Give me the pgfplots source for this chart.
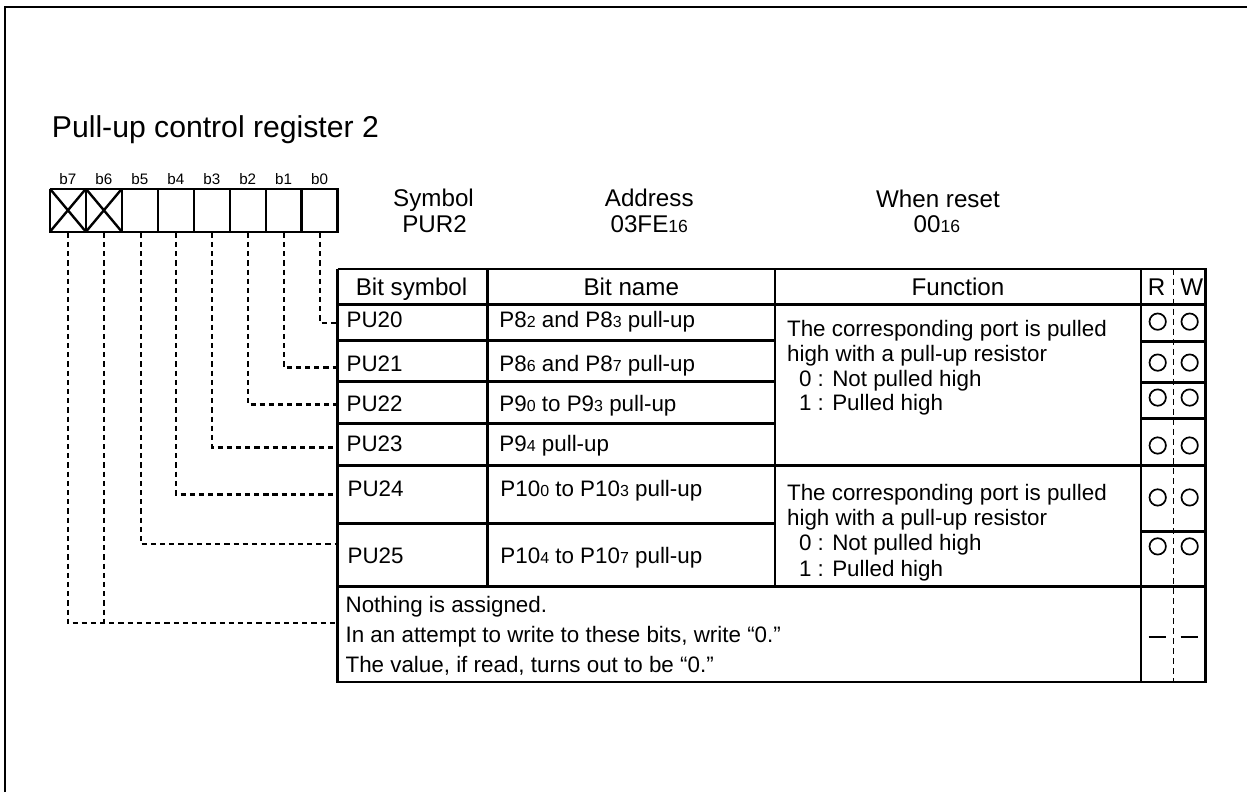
\documentclass[border=0pt]{standalone}
\usepackage{pgfplots}
\pgfplotsset{compat=1.18}
\usepackage{fontspec}
\setmainfont{Liberation Sans}
\newcommand{\sub}[1]{{\fontsize{8}{8}\selectfont #1}}
\newcommand{\subb}[1]{{\fontsize{8.8}{8.8}\selectfont #1}}
\tikzset{
  tl/.style={inner sep=0pt, outer sep=0pt, anchor=base west, font=\fontsize{11.2}{13}\selectfont},
  tc/.style={inner sep=0pt, outer sep=0pt, anchor=base, font=\fontsize{12.1}{14}\selectfont},
}
\begin{document}
\begin{tikzpicture}
\begin{axis}[hide axis, scale only axis, width=624pt, height=396.5pt,
  xmin=0, xmax=1248, ymin=0, ymax=793, y dir=reverse, clip=false]
\path (axis cs:0,0) rectangle (axis cs:1248,793);
% frame
\addplot[black, line width=1.4pt] coordinates {(5,793) (5,7) (1248,7)};
% register boxes
\addplot[black, line width=1.2pt] coordinates {(50,189) (338,189) (338,232) (50,232) (50,189)};
\addplot[black, line width=1.2pt] coordinates {(86,189) (86,232)};
\addplot[black, line width=1.2pt] coordinates {(122,189) (122,232)};
\addplot[black, line width=1.2pt] coordinates {(158,189) (158,232)};
\addplot[black, line width=1.2pt] coordinates {(194,189) (194,232)};
\addplot[black, line width=1.2pt] coordinates {(230,189) (230,232)};
\addplot[black, line width=1.2pt] coordinates {(266,189) (266,232)};
\addplot[black, line width=1.2pt] coordinates {(302,189) (302,232)};
\addplot[black, line width=1.2pt] coordinates {(50,189) (86,232)};
\addplot[black, line width=1.2pt] coordinates {(86,189) (50,232)};
\addplot[black, line width=1.2pt] coordinates {(86,189) (122,232)};
\addplot[black, line width=1.2pt] coordinates {(122,189) (86,232)};
% connectors
\addplot[black, line width=1.1pt, dash pattern=on 2.6pt off 2pt] coordinates {(320,233) (320,323) (338,323)};
\addplot[black, line width=1.1pt, dash pattern=on 2.6pt off 2pt] coordinates {(284,233) (284,368) (338,368)};
\addplot[black, line width=1.1pt, dash pattern=on 2.6pt off 2pt] coordinates {(248,233) (248,405) (338,405)};
\addplot[black, line width=1.1pt, dash pattern=on 2.6pt off 2pt] coordinates {(212,233) (212,448) (338,448)};
\addplot[black, line width=1.1pt, dash pattern=on 2.6pt off 2pt] coordinates {(176,233) (176,495) (338,495)};
\addplot[black, line width=1.1pt, dash pattern=on 2.6pt off 2pt] coordinates {(141,233) (141,545) (338,545)};
\addplot[black, line width=1.1pt, dash pattern=on 2.6pt off 2pt] coordinates {(104,233) (104,624)};
\addplot[black, line width=1.1pt, dash pattern=on 2.6pt off 2pt] coordinates {(68,233) (68,624) (338,624)};
% table outline and lines
\addplot[black, line width=1.2pt] coordinates {(338,269) (1207,269) (1207,683) (338,683) (338,269)};
\addplot[black, line width=1.2pt] coordinates {(338,305) (1207,305)};
\addplot[black, line width=1.2pt] coordinates {(338,341) (776,341)};
\addplot[black, line width=1.2pt] coordinates {(1142,342) (1207,342)};
\addplot[black, line width=1.2pt] coordinates {(338,382) (776,382)};
\addplot[black, line width=1.2pt] coordinates {(1142,383) (1207,383)};
\addplot[black, line width=1.2pt] coordinates {(338,424) (776,424)};
\addplot[black, line width=1.2pt] coordinates {(1142,419) (1207,419)};
\addplot[black, line width=1.2pt] coordinates {(338,466) (1207,466)};
\addplot[black, line width=1.2pt] coordinates {(338,524) (776,524)};
\addplot[black, line width=1.2pt] coordinates {(1142,532) (1207,532)};
\addplot[black, line width=1.2pt] coordinates {(338,587) (1207,587)};
\addplot[black, line width=1.2pt] coordinates {(488,269) (488,587)};
\addplot[black, line width=1.2pt] coordinates {(776,269) (776,587)};
\addplot[black, line width=1.2pt] coordinates {(1142,269) (1142,683)};
\addplot[black, line width=0.55pt, dash pattern=on 3pt off 2pt] coordinates {(1175,269) (1175,683)};
% R/W marks
\addplot[black, only marks, mark=o, mark size=4.1pt, mark options={line width=0.85pt}] coordinates {
 (1159,322) (1191,322) (1159,363) (1191,363) (1159,398) (1191,398)
 (1159,446) (1191,446) (1159,498) (1191,498) (1159,547) (1191,547)};
\addplot[black, line width=1pt] coordinates {(1150,638) (1167,638)};
\addplot[black, line width=1pt] coordinates {(1182,638) (1199,638)};
% texts
\node[tl, font=\fontsize{15.1}{18}\selectfont] at (axis cs:52,138) {Pull-up control register 2};
\node[tc, font=\fontsize{7.6}{9}\selectfont] at (axis cs:68,185) {b7};
\node[tc, font=\fontsize{7.6}{9}\selectfont] at (axis cs:104,185) {b6};
\node[tc, font=\fontsize{7.6}{9}\selectfont] at (axis cs:140,185) {b5};
\node[tc, font=\fontsize{7.6}{9}\selectfont] at (axis cs:176,185) {b4};
\node[tc, font=\fontsize{7.6}{9}\selectfont] at (axis cs:212,185) {b3};
\node[tc, font=\fontsize{7.6}{9}\selectfont] at (axis cs:248,185) {b2};
\node[tc, font=\fontsize{7.6}{9}\selectfont] at (axis cs:284,185) {b1};
\node[tc, font=\fontsize{7.6}{9}\selectfont] at (axis cs:320,185) {b0};
\node[tc] at (axis cs:434,207) {Symbol};
\node[tc] at (axis cs:435,233) {PUR2};
\node[tc] at (axis cs:650,207) {Address};
\node[tc] at (axis cs:650,233) {03FE\subb{16}};
\node[tc] at (axis cs:939,208) {When reset};
\node[tc] at (axis cs:938,233) {00\subb{16}};
\node[tc] at (axis cs:412,296) {Bit symbol};
\node[tc] at (axis cs:632,296) {Bit name};
\node[tc] at (axis cs:959,296) {Function};
\node[tc] at (axis cs:1158,296) {R};
\node[tc] at (axis cs:1193,296) {W};
\node[tl] at (axis cs:347,328) {PU20};
\node[tl] at (axis cs:500,328) {P8\sub{2} and P8\sub{3} pull-up};
\node[tl] at (axis cs:347,372) {PU21};
\node[tl] at (axis cs:500,372) {P8\sub{6} and P8\sub{7} pull-up};
\node[tl] at (axis cs:347,412) {PU22};
\node[tl] at (axis cs:500,412) {P9\sub{0} to P9\sub{3} pull-up};
\node[tl] at (axis cs:347,452) {PU23};
\node[tl] at (axis cs:500,452) {P9\sub{4} pull-up};
\node[tl] at (axis cs:348,497) {PU24};
\node[tl] at (axis cs:501,497) {P10\sub{0} to P10\sub{3} pull-up};
\node[tl] at (axis cs:348,564) {PU25};
\node[tl] at (axis cs:501,564) {P10\sub{4} to P10\sub{7} pull-up};
\node[tl] at (axis cs:788,337) {The corresponding port is pulled};
\node[tl] at (axis cs:788,362) {high with a pull-up resistor};
\node[tl] at (axis cs:800,387) {0 : Not pulled high};
\node[tl] at (axis cs:800,411) {1 : Pulled high};
\node[tl] at (axis cs:788,501) {The corresponding port is pulled};
\node[tl] at (axis cs:788,526) {high with a pull-up resistor};
\node[tl] at (axis cs:800,551) {0 : Not pulled high};
\node[tl] at (axis cs:800,577) {1 : Pulled high};
\node[tl] at (axis cs:346,613) {Nothing is assigned.};
\node[tl] at (axis cs:346,643) {In an attempt to write to these bits, write “0.”};
\node[tl] at (axis cs:346,673) {The value, if read, turns out to be “0.”};
\end{axis}
\end{tikzpicture}
\end{document}
